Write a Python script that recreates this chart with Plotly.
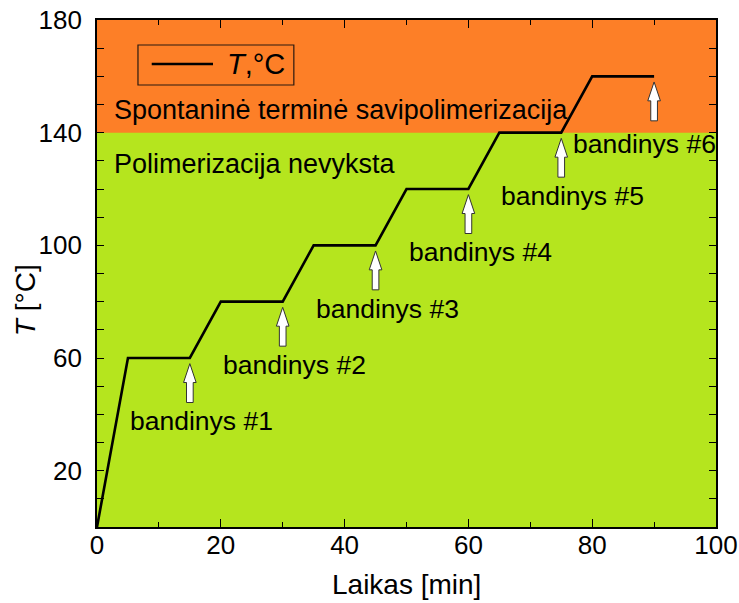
import numpy as np
import plotly.graph_objects as go

# Temperature programme (time in min, temperature in °C)
time_min = [0, 5, 15, 20, 30, 35, 45, 50, 60, 65, 75, 80, 90]
temp_c = [0, 60, 60, 80, 80, 100, 100, 120, 120, 140, 140, 160, 160]

# Sampling moments
sample_time = [15, 30, 45, 60, 75, 90]
sample_labels = ["bandinys #1", "bandinys #2", "bandinys #3",
                 "bandinys #4", "bandinys #5", "bandinys #6"]

# Region boundary between "no polymerisation" and thermal self-polymerisation
region_limit = 140

x_ticks = [0, 20, 40, 60, 80, 100]
y_ticks = [0, 20, 40, 60, 80, 100, 120, 140, 160, 180]
y_tick_text = ["", "20", "", "60", "", "100", "", "140", "", "180"]

GREEN = "#B5E51E"
ORANGE = "#FD7F27"
FONT = "Liberation Sans, Arial, sans-serif"
TXT = 26.5

fig = go.Figure()

# upper region shading
fig.add_shape(type="rect", xref="x", yref="y", x0=0, x1=100,
              y0=region_limit, y1=180, fillcolor=ORANGE,
              line=dict(width=0), layer="below")

# temperature curve
fig.add_trace(go.Scatter(x=time_min, y=temp_c, mode="lines",
                         line=dict(color="black", width=2.6),
                         showlegend=False, hoverinfo="skip"))

# block arrows marking each sample, drawn under the curve level
levels = np.interp(sample_time, time_min, temp_c)
head_hw, shaft_hw = 1.02, 0.54
tip_gap, head_len, arrow_len = 2.0, 6.7, 13.8
for i, (t, lv, lab) in enumerate(zip(sample_time, levels, sample_labels)):
    tip = lv - tip_gap
    base = tip - head_len
    tail = tip - arrow_len
    xs = [t, t + head_hw, t + shaft_hw, t + shaft_hw, t - shaft_hw, t - shaft_hw, t - head_hw, t]
    ys = [tip, base, base, tail, tail, base, base, tip]
    fig.add_trace(go.Scatter(x=xs, y=ys, mode="lines", fill="toself",
                             fillcolor="white", line=dict(color="#333", width=1),
                             showlegend=False, hoverinfo="skip"))
    # last label is pulled left to stay inside the frame
    if i == len(sample_time) - 1:
        lx, ly = t - 13.4, lv - 24.1
    else:
        lx, ly = t - 10.0, lv - 22.5
    fig.add_annotation(x=lx, y=ly, text=lab, showarrow=False,
                       xanchor="left", yanchor="middle",
                       font=dict(family=FONT, size=TXT, color="black"))

# region captions
fig.add_annotation(x=2.5, y=148.0, text="Spontaninė terminė savipolimerizacija",
                   showarrow=False, xanchor="left", yanchor="middle",
                   font=dict(family=FONT, size=27, color="black"))
fig.add_annotation(x=2.5, y=128.8, text="Polimerizacija nevyksta",
                   showarrow=False, xanchor="left", yanchor="middle",
                   font=dict(family=FONT, size=27, color="black"))

# legend box
fig.add_shape(type="rect", xref="paper", yref="paper",
              x0=0.0662, x1=0.318, y0=0.8718, y1=0.9507,
              line=dict(color="#2a1a10", width=1.2), fillcolor="rgba(0,0,0,0)")
fig.add_shape(type="line", xref="paper", yref="paper",
              x0=0.0884, x1=0.1874, y0=0.9132, y1=0.9132,
              line=dict(color="black", width=2.6))
fig.add_annotation(xref="paper", yref="paper", x=0.207, y=0.9132,
                   text="<i>T</i>,°C", showarrow=False,
                   xanchor="left", yanchor="middle",
                   font=dict(family=FONT, size=29, color="black"))

# axis titles
fig.add_annotation(xref="paper", yref="paper", x=-0.115, y=0.447,
                   text="<i>T</i> [°C]", showarrow=False, textangle=-90,
                   xanchor="center", yanchor="middle",
                   font=dict(family=FONT, size=28, color="black"))
fig.add_annotation(xref="paper", yref="paper", x=0.5, y=-0.113,
                   text="Laikas [min]", showarrow=False,
                   xanchor="center", yanchor="middle",
                   font=dict(family=FONT, size=28, color="black"))

tick_common = dict(ticks="inside", tickwidth=1.3, tickcolor="black",
                   showgrid=False, zeroline=False, automargin=False)

fig.update_layout(
    width=739, height=603,
    margin=dict(l=97, r=23, t=20, b=76),
    paper_bgcolor="white", plot_bgcolor=GREEN,
    showlegend=False,
    xaxis=dict(range=[0, 100], tickvals=x_ticks, ticklen=8,
               minor=dict(dtick=10, ticks="inside", ticklen=5, tickwidth=1.3,
                          tickcolor="black"),
               showline=True, linecolor="black", linewidth=1.6, mirror=True,
               ticklabelstandoff=-6,
               tickfont=dict(family=FONT, size=26, color="black"),
               **tick_common),
    yaxis=dict(range=[0, 180], tickvals=y_ticks, ticktext=y_tick_text, ticklen=7,
               minor=dict(dtick=10, ticks="inside", ticklen=7, tickwidth=1.3,
                          tickcolor="black"),
               showline=True, linecolor="black", linewidth=1.6, mirror=True,
               ticklabelstandoff=8,
               tickfont=dict(family=FONT, size=26, color="black"),
               **tick_common),
    # mirrored tick marks on the top and right edges
    xaxis2=dict(range=[0, 100], overlaying="x", side="top", tickvals=x_ticks,
                ticklen=8, showticklabels=False,
                minor=dict(dtick=10, ticks="inside", ticklen=5, tickwidth=1.3,
                           tickcolor="black"),
                **tick_common),
    yaxis2=dict(range=[0, 180], overlaying="y", side="right", tickvals=y_ticks,
                ticklen=7, showticklabels=False,
                minor=dict(dtick=10, ticks="inside", ticklen=7, tickwidth=1.3,
                           tickcolor="black"),
                **tick_common),
)

# invisible trace so the mirrored axes are rendered
fig.add_trace(go.Scatter(x=[0, 100], y=[0, 180], xaxis="x2", yaxis="y2",
                         mode="markers", marker=dict(opacity=0),
                         showlegend=False, hoverinfo="skip"))

fig.write_html("out.html")
